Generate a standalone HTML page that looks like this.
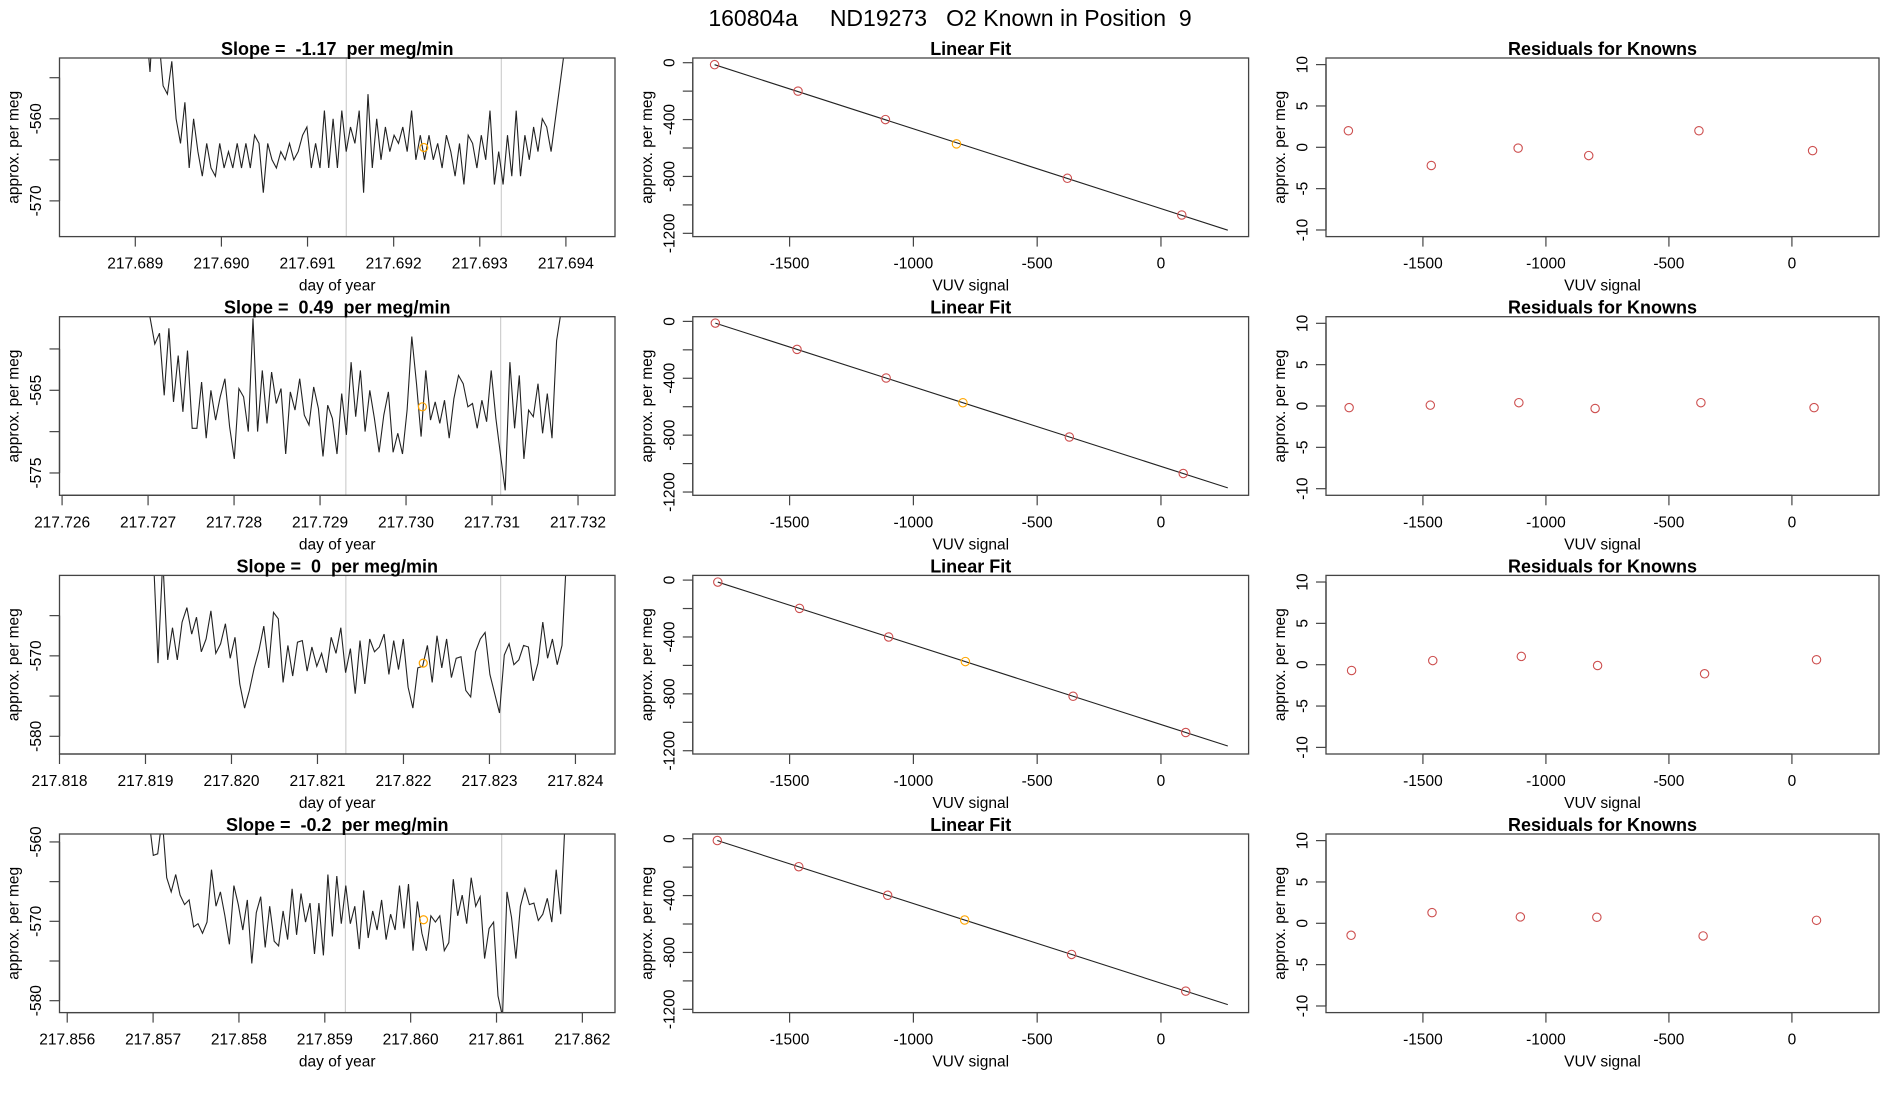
<!DOCTYPE html>
<html><head><meta charset="utf-8"><style>
html,body{margin:0;padding:0;background:#fff}
svg{display:block;font-family:"Liberation Sans",sans-serif}
text{white-space:pre}
</style></head><body>
<svg id="chart" width="1900" height="1100" viewBox="0 0 1900 1100" xmlns="http://www.w3.org/2000/svg">
<rect width="1900" height="1100" fill="#fff"/>
<text x="950" y="26" text-anchor="middle" font-size="23" fill="#000" xml:space="preserve">160804a     ND19273   O2 Known in Position  9</text>
</svg>
<script>
// ---- data ----
const series1=[-548,-554.3,-545,-550,-556,-557,-553,-560,-563,-558,-566,-560,-564,-567,-563,-566,-567,-563,-566,-564,-566,-563,-566,-563,-566,-562,-563,-569,-563,-565,-566,-564,-565,-563,-565,-564,-562,-561,-566,-563,-566,-559,-566,-560,-566,-559,-564,-561,-563,-559,-569,-557,-566,-560,-565,-561,-564,-562,-563,-561,-564,-559,-565,-562,-565,-562,-565,-563,-566,-562,-564,-567,-563,-568,-562,-563,-566,-562,-565,-559,-568,-564,-568,-562,-567,-559,-567,-562,-565,-561,-564,-560,-561,-564,-560,-556,-552,-548];
const series2=[-554,-556.3,-559.4,-558.1,-565.6,-557.5,-566.4,-560.8,-567.6,-560.2,-569.6,-569.6,-564,-570.8,-565,-568.6,-565.8,-563.6,-569.4,-573.3,-564.8,-565.8,-570,-556.3,-570,-562.6,-569,-562.8,-566.6,-564.8,-572.7,-565.2,-567.4,-563.6,-568,-569.2,-564.6,-567.2,-573,-566.8,-568.4,-572.7,-565.4,-570.4,-561.6,-568.2,-562.6,-570,-565,-568.4,-572.5,-568,-565.2,-572.5,-570.2,-572.7,-567.4,-558.5,-564.2,-570.6,-562.6,-568.6,-566.4,-569,-566.2,-570.8,-566,-563.2,-564.2,-567,-566.6,-569.6,-566.2,-568.8,-562.6,-568.4,-572.9,-577.1,-561.6,-569.6,-563.2,-573.3,-567.4,-568.2,-564.2,-570.2,-565.4,-570.8,-559,-555.3,-552];
const series3=[-557,-570.9,-558,-570.5,-566.5,-570.5,-565.8,-564,-567.3,-565.2,-569.5,-567.9,-564.4,-569.7,-568.5,-566,-570.3,-567.7,-573.5,-576.5,-574.3,-571.5,-569.3,-566.3,-571.5,-564.6,-565.4,-573.3,-568.7,-572.5,-568.3,-568.1,-571.9,-568.9,-571.3,-569.7,-572.1,-567.7,-569.7,-566.5,-572.1,-569.1,-574.7,-568.1,-573.5,-567.9,-569.5,-568.9,-567.3,-572.3,-568.1,-571.7,-567.9,-573.9,-576.5,-571.5,-571.3,-568.7,-573.3,-567.5,-571.5,-567.9,-572.7,-570.3,-570.1,-574.3,-575.1,-569.5,-567.9,-567.1,-572.3,-574.7,-577.1,-569.9,-568.5,-571.1,-570.5,-568.7,-568.9,-573.1,-570.9,-565.8,-570.3,-567.9,-571.1,-568.7,-557];
const series4=[-557,-561.7,-561.5,-557,-564.5,-566.3,-564.1,-566.7,-567.9,-567.3,-570.7,-570.3,-571.5,-570.1,-563.5,-568.1,-566.3,-569.3,-572.9,-565.5,-567.9,-571.1,-567.3,-575.3,-568.9,-566.9,-573.3,-568.1,-572.5,-573.1,-568.7,-572.3,-565.9,-571.7,-566.5,-570.1,-567.7,-574.1,-567.7,-574.3,-564.1,-571.9,-564.3,-570.3,-565.5,-570.3,-568.1,-573.5,-566.1,-572.1,-568.7,-571.1,-567.3,-572.3,-569.1,-571.1,-565.5,-570.9,-565.3,-573.7,-567.5,-571.5,-573.7,-569.3,-570.1,-569.3,-573.7,-572.7,-564.7,-569.3,-566.7,-570.3,-564.5,-568.1,-566.9,-574.7,-570.9,-570.1,-579.4,-582,-566.3,-569.5,-574.7,-568.1,-565.9,-567.9,-567.7,-569.9,-569.1,-567.1,-570.1,-563.5,-569.1,-557];
const seriesStart=[217.68912,217.72697,217.81909,217.85695];
const seriesEnd=[217.69403,217.73186,217.8239,217.8618];
const dayMin=[217.68812,217.72597,217.818,217.85591];
const dayMax=[217.69457,217.73243,217.82446,217.86238];
const valMax=[-552.6,-556.1,-560.0,-559.0];
const valMin=[-574.35,-577.7,-582.2,-581.5];
const dayTicks1=["217.689","217.690","217.691","217.692","217.693","217.694"];
const dayTicks2=["217.726","217.727","217.728","217.729","217.730","217.731","217.732"];
const dayTicks3=["217.818","217.819","217.820","217.821","217.822","217.823","217.824"];
const dayTicks4=["217.856","217.857","217.858","217.859","217.860","217.861","217.862"];
const valTicks1=[-555,-560,-565,-570];
const valTicks2=[-560,-565,-570,-575];
const valTicks3=[-565,-570,-575,-580];
const valTicks4=[-560,-565,-570,-575,-580];
const valLabels1=["-560","-570"];
const valLabels2=["-565","-575"];
const valLabels3=["-570","-580"];
const valLabels4=["-560","-570","-580"];
const grayLines=[[217.69145,217.69325],[217.7293,217.7311],[217.82133,217.82313],[217.85924,217.86106]];
const orangeDay=[217.69235,217.73019,217.82223,217.86015];
const orangeVal=[-563.5,-567.0,-570.9,-569.8];
const slopeLabels=["-1.17","0.49","0","-0.2"];
const vuv1=[-1803,-1466,-1113,-826,-378,84];
const vuv2=[-1800,-1470,-1110,-800,-370,90];
const vuv3=[-1790,-1460,-1100,-790,-355,100];
const vuv4=[-1792,-1463,-1104,-793,-361,100];
const known1=[-14,-200,-400,-571,-813,-1071];
const known2=[-12,-197,-398,-572,-813,-1070];
const known3=[-14,-199,-400,-573,-817,-1072];
const known4=[-13,-197,-398,-572,-814,-1072];
const resid1=[2.0,-2.2,-0.1,-1.0,2.0,-0.4];
const resid2=[-0.2,0.1,0.4,-0.3,0.4,-0.2];
const resid3=[-0.7,0.5,1.0,-0.1,-1.1,0.6];
const resid4=[-1.45,1.29,0.77,0.73,-1.53,0.36];
const vuvTicks=[-1500,-1000,-500,0];
const fitTicks=[0,-200,-400,-600,-800,-1000,-1200];
const fitLabels=["0","-400","-800","-1200"];
const residTicks=[10,5,0,-5,-10];
const fitLineEnd=270;

// ---- layout ----
const svg=document.getElementById('chart');
const NS='http://www.w3.org/2000/svg';
const colLeft=[59.5,692.8,1326];
const colW=[555.5,555.8,553];
const rowTop=[58,316.7,575.4,834];
const boxH=178.6;
function mk(tag,attrs,parent){const e=document.createElementNS(NS,tag);for(const k in attrs)e.setAttribute(k,attrs[k]);(parent||svg).appendChild(e);return e;}
function lin(d0,d1,r0,r1){return v=>r0+(v-d0)/(d1-d0)*(r1-r0);}

const seriesAll=[series1,series2,series3,series4];
const dayTicksAll=[dayTicks1,dayTicks2,dayTicks3,dayTicks4];
const valTicksAll=[valTicks1,valTicks2,valTicks3,valTicks4];
const valLabelsAll=[valLabels1,valLabels2,valLabels3,valLabels4];
const vuvAll=[vuv1,vuv2,vuv3,vuv4];
const knownAll=[known1,known2,known3,known4];
const residAll=[resid1,resid2,resid3,resid4];

function frame(g,L,T,W,title,xlab,name){
  const b=mk('rect',{x:L,y:T,width:W,height:boxH,fill:'none',stroke:'#444','stroke-width':1.3},g);
  
  
  const t=mk('text',{x:L+W/2,y:T-3,'text-anchor':'middle','font-size':18,'font-weight':'bold',style:'white-space:pre'},g);
  t.textContent=title;
  
  
  const xl=mk('text',{x:L+W/2,y:T+boxH+54,'text-anchor':'middle','font-size':15.5},g);
  xl.textContent=xlab;
  
  
  const yl=mk('text',{x:0,y:0,'text-anchor':'middle','font-size':15.5,transform:`translate(${L-41},${T+boxH/2}) rotate(-90)`},g);
  yl.textContent='approx. per meg';
  
  
}
function xAxis(g,L,T,xs,vals,labels,name){
  const y=T+boxH;
  mk('line',{x1:xs(vals[0]),x2:xs(vals[vals.length-1]),y1:y,y2:y,stroke:'#444','stroke-width':1.3},g);
  vals.forEach((v,i)=>{
    const px=xs(v);
    const tk=mk('line',{x1:px,x2:px,y1:y,y2:y+10,stroke:'#444','stroke-width':1.2},g);
    
    
    const tl=mk('text',{x:px,y:y+32,'text-anchor':'middle','font-size':15.5},g);
    tl.textContent=labels[i];
    
    
  });
}
function yAxis(g,L,ys,vals,labels,name){
  mk('line',{x1:L,x2:L,y1:ys(vals[0]),y2:ys(vals[vals.length-1]),stroke:'#444','stroke-width':1.3},g);
  vals.forEach(v=>{
    const py=ys(v);
    const tk=mk('line',{x1:L-10,x2:L,y1:py,y2:py,stroke:'#444','stroke-width':1.2},g);
    
    
  });
  labels.forEach(s=>{
    const py=ys(parseFloat(s));
    const tl=mk('text',{x:0,y:0,'text-anchor':'middle','font-size':15.5,transform:`translate(${L-18.5},${py}) rotate(-90)`},g);
    tl.textContent=s;
    
    
  });
}

for(let r=0;r<4;r++){
  const T=rowTop[r];
  {
    const L=colLeft[0],W=colW[0],name='slope-panel-'+(r+1);
    const g=mk('g',{});
    
    
    const xs=lin(dayMin[r],dayMax[r],L,L+W);
    const ys=lin(valMin[r],valMax[r],T+boxH,T);
    const cp=mk('clipPath',{id:'clip'+r},g);
    mk('rect',{x:L,y:T,width:W,height:boxH},cp);
    grayLines[r].forEach(d=>{
      const gl=mk('line',{x1:xs(d),x2:xs(d),y1:T,y2:T+boxH,stroke:'#cfcfcf','stroke-width':1.2},g);
      
      
    });
    const s=seriesAll[r];
    const pts=s.map((v,i)=>{const d=seriesStart[r]+(seriesEnd[r]-seriesStart[r])*i/(s.length-1);return xs(d).toFixed(1)+','+ys(v).toFixed(1);});
    const pl=mk('polyline',{points:pts.join(' '),fill:'none',stroke:'#222','stroke-width':1.1,'clip-path':`url(#clip${r})`},g);
    
    
    const oc=mk('circle',{cx:xs(orangeDay[r]),cy:ys(orangeVal[r]),r:4,fill:'none',stroke:'#ffa500','stroke-width':1.2},g);
    
    
    const dt=dayTicksAll[r];
    xAxis(g,L,T,xs,dt.map(parseFloat),dt,name);
    yAxis(g,L,ys,valTicksAll[r],valLabelsAll[r],name);
    frame(g,L,T,W,'Slope =  '+slopeLabels[r]+'  per meg/min','day of year',name);
  }
  {
    const L=colLeft[1],W=colW[1],name='linear-fit-panel-'+(r+1);
    const g=mk('g',{});
    
    
    const xs=lin(-1891,354,L,L+W);
    const ys=lin(-1223,33,T+boxH,T);
    const xv=vuvAll[r],yv=knownAll[r];
    const n=xv.length,mx=xv.reduce((a,b)=>a+b)/n,my=yv.reduce((a,b)=>a+b)/n;
    let sxy=0,sxx=0;for(let i=0;i<n;i++){sxy+=(xv[i]-mx)*(yv[i]-my);sxx+=(xv[i]-mx)**2;}
    const b=sxy/sxx,a=my-b*mx;
    const fl=mk('line',{x1:xs(xv[0]),y1:ys(a+b*xv[0]),x2:xs(fitLineEnd),y2:ys(a+b*fitLineEnd),stroke:'#222','stroke-width':1.1},g);
    
    
    xv.forEach((x,i)=>{
      const c=mk('circle',{cx:xs(x),cy:ys(yv[i]),r:4.2,fill:'none',stroke:i===3?'#ffa500':'#cd4f4f','stroke-width':1.1},g);
      
      
    });
    xAxis(g,L,T,xs,vuvTicks,vuvTicks.map(String),name);
    yAxis(g,L,ys,fitTicks,fitLabels,name);
    frame(g,L,T,W,'Linear Fit','VUV signal',name);
  }
  {
    const L=colLeft[2],W=colW[2],name='residuals-panel-'+(r+1);
    const g=mk('g',{});
    
    
    const xs=lin(-1894,354,L,L+W);
    const ys=lin(-10.8,10.8,T+boxH,T);
    vuvAll[r].forEach((x,i)=>{
      const c=mk('circle',{cx:xs(x),cy:ys(residAll[r][i]),r:4.2,fill:'none',stroke:'#cd4f4f','stroke-width':1.1},g);
      
      
    });
    xAxis(g,L,T,xs,vuvTicks,vuvTicks.map(String),name);
    yAxis(g,L,ys,residTicks,residTicks.map(String),name);
    frame(g,L,T,W,'Residuals for Knowns','VUV signal',name);
  }
}
</script>
</body></html>
